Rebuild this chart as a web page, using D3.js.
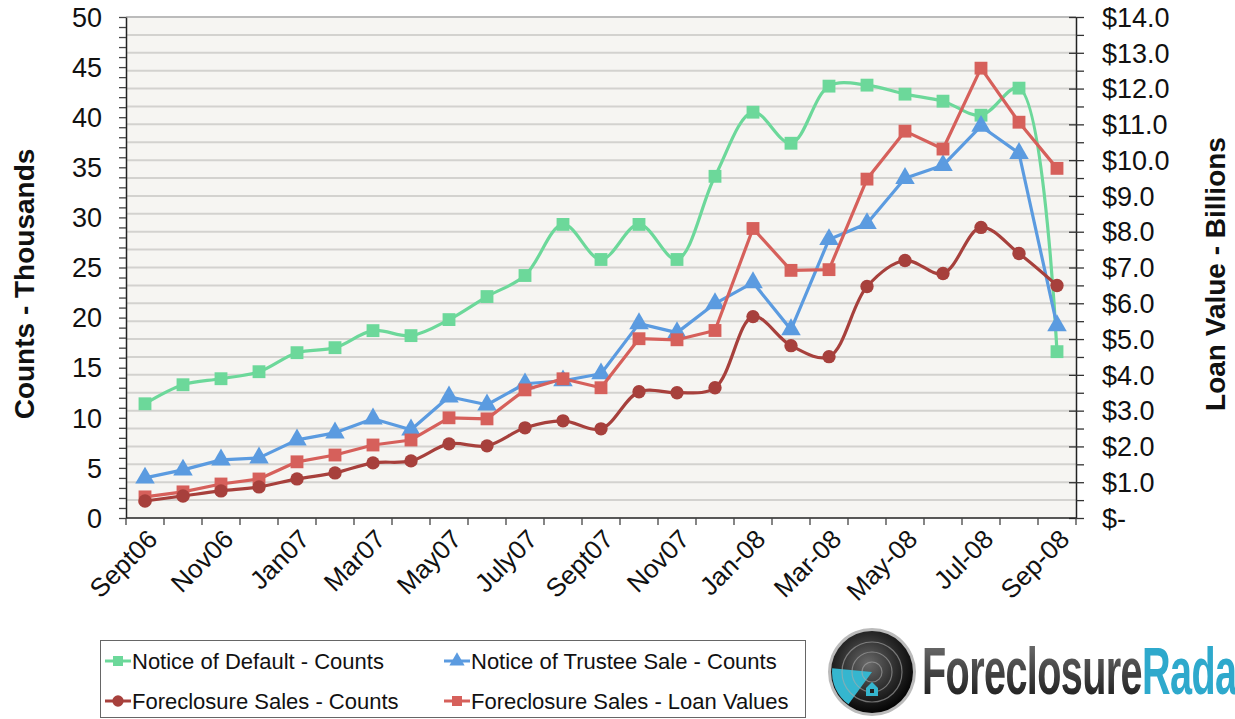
<!DOCTYPE html>
<html>
<head>
<meta charset="utf-8">
<script src="https://cdn.jsdelivr.net/npm/d3@7"></script>
<style>
  body { margin: 0; background: #fff; }
  svg { display: block; font-family: "Liberation Sans", Arial, sans-serif; }
</style>
</head>
<body>
<div id="app"></div>
<script>
// months on the x axis
var months = ["Sept06","Oct06","Nov06","Dec06","Jan07","Feb07","Mar07","Apr07","May07","Jun07",
  "July07","Aug07","Sept07","Oct07","Nov07","Dec07","Jan-08","Feb-08","Mar-08","Apr-08",
  "May-08","Jun-08","Jul-08","Aug-08","Sep-08"];

// counts in thousands (left axis)
var noticeDefault = [11.4,13.3,13.9,14.6,16.5,17.0,18.7,18.2,19.8,22.1,24.2,29.3,25.8,29.3,25.8,
  34.1,40.5,37.4,43.1,43.2,42.3,41.6,40.2,42.9,16.6];
var trusteeSale = [4.0,4.8,5.8,6.0,7.8,8.5,9.9,8.8,12.1,11.3,13.4,13.7,14.4,19.4,18.5,
  21.4,23.5,18.8,27.8,29.4,33.9,35.2,39.1,36.4,19.2];
var salesCounts = [1.7,2.2,2.7,3.1,3.9,4.5,5.5,5.7,7.4,7.2,9.0,9.7,8.9,12.6,12.5,
  13.0,20.1,17.2,16.1,23.1,25.7,24.4,29.0,26.4,23.2];
// loan values in billions (right axis)
var loanValues = [0.59,0.73,0.95,1.09,1.57,1.76,2.04,2.18,2.80,2.77,3.58,3.89,3.64,5.01,4.98,
  5.24,8.09,6.92,6.94,9.47,10.81,10.31,12.57,11.06,9.77];

var leftTicks = [0,5,10,15,20,25,30,35,40,45,50];
var rightTicks = [0,1,2,3,4,5,6,7,8,9,10,11,12,13,14];

var width = 1235, height = 719;
var plotL = 126, plotR = 1076, plotT = 17, plotB = 518;

var svg = d3.select("#app").append("svg")
    .attr("width", width)
    .attr("height", height);

var x = d3.scaleBand().domain(months).range([plotL, plotR]);
var yL = d3.scaleLinear().domain([0, 50]).range([plotB, plotT]);
var yR = d3.scaleLinear().domain([0, 14]).range([plotB, plotT]);
var cx = function(i) { return x(months[i]) + x.bandwidth() / 2; };

// plot background
svg.append("rect")
    .attr("x", plotL).attr("y", plotT)
    .attr("width", plotR - plotL).attr("height", plotB - plotT)
    .attr("fill", "#f6f5f2");

// gridlines every $0.5
svg.append("g").selectAll("line")
    .data(d3.range(0.5, 14.01, 0.5))
    .enter().append("line")
    .attr("x1", plotL).attr("x2", plotR)
    .attr("y1", function(d) { return yR(d); })
    .attr("y2", function(d) { return yR(d); })
    .attr("stroke", function(d) { return d === 14 ? "#bbb" : "#d3d2cf"; })
    .attr("stroke-width", 2);

// left axis
var gL = svg.append("g").attr("transform", "translate(" + plotL + ",0)");
gL.call(d3.axisLeft(yL).tickValues(d3.range(0, 51, 1)).tickSize(7).tickFormat("").tickSizeOuter(0));
gL.selectAll(".tick line").attr("stroke", "#444").attr("stroke-width", 1.3);
gL.select(".domain").attr("stroke", "#222").attr("stroke-width", 1.5);
gL.selectAll(".lbl").data(leftTicks).enter().append("text")
    .attr("x", -24).attr("y", function(d) { return yL(d); })
    .attr("dy", "0.36em").attr("text-anchor", "end")
    .attr("font-size", 27).attr("fill", "#111")
    .text(function(d) { return d; });

// right axis
var gR = svg.append("g").attr("transform", "translate(" + plotR + ",0)");
gR.call(d3.axisRight(yR).tickValues(d3.range(0, 14.01, 0.5)).tickSize(8).tickFormat("").tickSizeOuter(0));
gR.selectAll(".tick line").attr("stroke", "#333").attr("stroke-width", 1.3)
    .attr("x1", function(d) { return d % 1 === 0 ? -7 : 0; });
gR.select(".domain").attr("stroke", "#222").attr("stroke-width", 1.5);
gR.selectAll(".lbl").data(rightTicks).enter().append("text")
    .attr("x", 26).attr("y", function(d) { return yR(d); })
    .attr("dy", "0.36em").attr("text-anchor", "start")
    .attr("font-size", 27).attr("fill", "#111")
    .text(function(d) { return d === 0 ? "$-" : "$" + d.toFixed(1); });

// x axis
var gX = svg.append("g");
gX.append("line").attr("x1", plotL).attr("x2", plotR)
    .attr("y1", plotB).attr("y2", plotB)
    .attr("stroke", "#222").attr("stroke-width", 1.5);
gX.selectAll(".tk").data(d3.range(0, months.length + 1)).enter().append("line")
    .attr("x1", function(i) { return plotL + i * x.step(); })
    .attr("x2", function(i) { return plotL + i * x.step(); })
    .attr("y1", plotB).attr("y2", plotB + 7)
    .attr("stroke", "#444").attr("stroke-width", 1.3);
gX.selectAll(".lbl").data(months.filter(function(d, i) { return i % 2 === 0; }))
    .enter().append("text")
    .attr("transform", function(d) {
        return "translate(" + (x(d) + x.bandwidth() / 2 + 1) + "," + (plotB + 10) + ") rotate(-45)";
    })
    .attr("text-anchor", "end").attr("dy", "0.7em")
    .attr("font-size", 26).attr("fill", "#111")
    .text(function(d) { return d; });

// axis titles
svg.append("text")
    .attr("transform", "translate(34,284) rotate(-90)")
    .attr("text-anchor", "middle").attr("font-size", 28).attr("font-weight", "bold")
    .attr("fill", "#111").text("Counts - Thousands");
svg.append("text")
    .attr("transform", "translate(1225,274) rotate(-90)")
    .attr("text-anchor", "middle").attr("font-size", 28).attr("font-weight", "bold")
    .attr("fill", "#111").text("Loan Value - Billions");

var series = [
  {name: "Notice of Default - Counts", values: noticeDefault, y: yL, color: "#6cd89a", shape: "square", smooth: true},
  {name: "Notice of Trustee Sale - Counts", values: trusteeSale, y: yL, color: "#5b9be0", shape: "triangle", smooth: false},
  {name: "Foreclosure Sales - Counts", values: salesCounts, y: yL, color: "#a7403c", shape: "circle", smooth: true},
  {name: "Foreclosure Sales - Loan Values", values: loanValues, y: yR, color: "#d6605b", shape: "square", smooth: false}
];

var symType = {square: d3.symbolSquare, triangle: d3.symbolTriangle, circle: d3.symbolCircle};

var drawOrder = [0, 1, 3, 2];
drawOrder.forEach(function(k) {
  var s = series[k];
  var line = d3.line()
      .x(function(d, i) { return cx(i); })
      .y(function(d) { return s.y(d); })
      .curve(s.smooth ? d3.curveCatmullRom.alpha(0.5) : d3.curveLinear);
  svg.append("path")
      .datum(s.values)
      .attr("d", line)
      .attr("fill", "none")
      .attr("stroke", s.color)
      .attr("stroke-width", 3.2)
      .attr("stroke-linejoin", "round");
  svg.append("g").selectAll("path")
      .data(s.values)
      .enter().append("path")
      .attr("transform", function(d, i) { return "translate(" + cx(i) + "," + s.y(d) + ")"; })
      .attr("d", d3.symbol().type(symType[s.shape]).size(s.shape === "circle" ? 140 : 165))
      .attr("fill", s.color);
});

// legend
var legend = svg.append("g");
legend.append("rect")
    .attr("x", 100.5).attr("y", 640.5).attr("width", 705).attr("height", 77)
    .attr("fill", "#fff").attr("stroke", "#666").attr("stroke-width", 1);
var legPos = [[105, 661], [444, 661], [105, 701], [444, 701]];
series.forEach(function(s, k) {
  var p = legPos[k];
  var g = legend.append("g").attr("transform", "translate(" + p[0] + "," + p[1] + ")");
  g.append("line").attr("x1", 0).attr("x2", 26).attr("y1", 0).attr("y2", 0)
      .attr("stroke", s.color).attr("stroke-width", 3);
  g.append("path").attr("transform", "translate(13,0)")
      .attr("d", d3.symbol().type(symType[s.shape]).size(100))
      .attr("fill", s.color);
  g.append("text").attr("x", 27).attr("dy", "0.35em")
      .attr("font-size", 22).attr("fill", "#111").text(s.name);
});

// ForeclosureRadar logo
var defs = svg.append("defs");
var rg = defs.append("radialGradient").attr("id", "radar").attr("cx", "45%").attr("cy", "40%").attr("r", "60%");
rg.append("stop").attr("offset", "0%").attr("stop-color", "#6a6a6a");
rg.append("stop").attr("offset", "60%").attr("stop-color", "#2a2a2a");
rg.append("stop").attr("offset", "100%").attr("stop-color", "#050505");
var tg = defs.append("linearGradient").attr("id", "ftext").attr("x1", 0).attr("x2", 0).attr("y1", 0).attr("y2", 1);
tg.append("stop").attr("offset", "0%").attr("stop-color", "#777");
tg.append("stop").attr("offset", "100%").attr("stop-color", "#111");

var logo = svg.append("g").attr("transform", "translate(872,672)");
logo.append("circle").attr("r", 44).attr("fill", "#bbb");
logo.append("circle").attr("r", 41).attr("fill", "url(#radar)");
logo.append("path")
    .attr("d", d3.arc().innerRadius(0).outerRadius(40).startAngle(Math.PI * 1.2).endAngle(Math.PI * 1.53)())
    .attr("fill", "#35b6cf");
[10, 20, 30].forEach(function(r) {
  logo.append("circle").attr("r", r).attr("fill", "none").attr("stroke", "#aaa").attr("stroke-width", 1.2).attr("opacity", 0.6);
});
logo.append("path").attr("d", "M-6,16 L0,10 L6,16 L6,24 L-6,24 Z").attr("fill", "#35b6cf");
logo.append("rect").attr("x", -2).attr("y", 17).attr("width", 4).attr("height", 4).attr("fill", "#222");
logo.append("text")
    .attr("transform", "translate(50,22) scale(0.6,1)")
    .attr("font-size", 66).attr("font-weight", "bold").attr("letter-spacing", -1)
    .selectAll("tspan")
    .data([{t: "Foreclosure", c: "url(#ftext)"}, {t: "Radar", c: "#2ea9cc"}])
    .enter().append("tspan")
    .attr("fill", function(d) { return d.c; })
    .text(function(d) { return d.t; });
</script>
</body>
</html>
